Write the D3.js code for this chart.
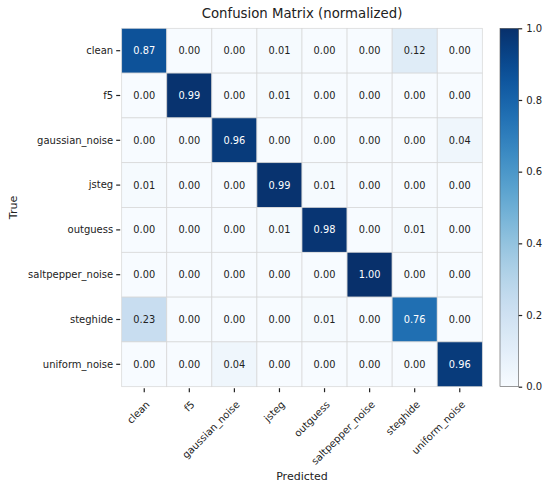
<!DOCTYPE html>
<html>
<head>
<meta charset="utf-8">
<script src="https://cdn.jsdelivr.net/npm/d3@7"></script>
<style>
  body { margin: 0; background: #fff; }
  svg { display: block; font-family: 'DejaVu Sans', sans-serif; }
</style>
</head>
<body>
<div id="chart"></div>
<script>

const classes = ['clean', 'f5', 'gaussian_noise', 'jsteg', 'outguess',
                 'saltpepper_noise', 'steghide', 'uniform_noise'];

// rows = true class, columns = predicted class
const matrix = [
  [0.87, 0.00, 0.00, 0.01, 0.00, 0.00, 0.12, 0.00],
  [0.00, 0.99, 0.00, 0.01, 0.00, 0.00, 0.00, 0.00],
  [0.00, 0.00, 0.96, 0.00, 0.00, 0.00, 0.00, 0.04],
  [0.01, 0.00, 0.00, 0.99, 0.01, 0.00, 0.00, 0.00],
  [0.00, 0.00, 0.00, 0.01, 0.98, 0.00, 0.01, 0.00],
  [0.00, 0.00, 0.00, 0.00, 0.00, 1.00, 0.00, 0.00],
  [0.23, 0.00, 0.00, 0.00, 0.01, 0.00, 0.76, 0.00],
  [0.00, 0.00, 0.04, 0.00, 0.00, 0.00, 0.00, 0.96]
];

const colorbarTicks = [0, 0.2, 0.4, 0.6, 0.8, 1.0];

const width = 550;
const height = 488;
const plotLeft = 121.7, plotTop = 28.3, plotRight = 482.3, plotBottom = 386.7;
const cbLeft = 500, cbWidth = 18.7;
const tickFont = 10;

const svg = d3.select('#chart').append('svg')
  .attr('width', width)
  .attr('height', height);

const x = d3.scaleBand().domain(classes).range([plotLeft, plotRight]);
const y = d3.scaleBand().domain(classes).range([plotTop, plotBottom]);
const color = d3.scaleSequential(d3.interpolateBlues).domain([0, 1]);

// Title
svg.append('text')
  .text('Confusion Matrix (normalized)')
  .attr('x', (plotLeft + plotRight) / 2)
  .attr('y', 18)
  .attr('text-anchor', 'middle')
  .attr('font-size', 13.3)
  .attr('fill', '#222');

// Cells
let cells = [];
matrix.forEach((row, i) => {
  row.forEach((v, j) => cells.push({ r: classes[i], c: classes[j], v: v }));
});

svg.append('g').selectAll('rect')
  .data(cells)
  .join('rect')
  .attr('x', d => x(d.c))
  .attr('y', d => y(d.r))
  .attr('width', x.bandwidth())
  .attr('height', y.bandwidth())
  .attr('fill', d => color(d.v))
  .attr('stroke', '#d6d6d6')
  .attr('stroke-width', 0.7);

svg.append('g').selectAll('text')
  .data(cells)
  .join('text')
  .text(d => d.v.toFixed(2))
  .attr('x', d => x(d.c) + x.bandwidth() / 2)
  .attr('y', d => y(d.r) + y.bandwidth() / 2)
  .attr('dy', '0.36em')
  .attr('text-anchor', 'middle')
  .attr('font-size', 9.8)
  .attr('fill', d => d.v > 0.5 ? '#fff' : '#222');

// Axes
const yAxis = svg.append('g')
  .attr('transform', `translate(${plotLeft - 1.5},0)`)
  .call(d3.axisLeft(y).tickSize(4).tickPadding(3));
yAxis.select('.domain').remove();
yAxis.selectAll('.tick line').attr('stroke', '#222').attr('stroke-width', 1.2);
yAxis.selectAll('.tick text')
  .attr('font-size', tickFont)
  .attr('font-family', 'DejaVu Sans')
  .attr('fill', '#222');

const xAxis = svg.append('g')
  .attr('transform', `translate(0,${plotBottom + 1.5})`)
  .call(d3.axisBottom(x).tickSize(4).tickPadding(3));
xAxis.select('.domain').remove();
xAxis.selectAll('.tick line').attr('stroke', '#222').attr('stroke-width', 1.2);
xAxis.selectAll('.tick text')
  .attr('font-size', tickFont)
  .attr('font-family', 'DejaVu Sans')
  .attr('fill', '#222')
  .attr('text-anchor', 'end')
  .attr('y', 0)
  .attr('dy', 0)
  .attr('transform', 'translate(6,17) rotate(-45)');

// Axis titles
svg.append('text')
  .text('Predicted')
  .attr('x', (plotLeft + plotRight) / 2)
  .attr('y', 479.5)
  .attr('text-anchor', 'middle')
  .attr('font-size', 11)
  .attr('fill', '#222');

svg.append('text')
  .text('True')
  .attr('transform', `translate(17,${(plotTop + plotBottom) / 2}) rotate(-90)`)
  .attr('text-anchor', 'middle')
  .attr('font-size', 11)
  .attr('fill', '#222');

// Colorbar
const defs = svg.append('defs');
const grad = defs.append('linearGradient')
  .attr('id', 'cbgrad')
  .attr('x1', 0).attr('y1', 1).attr('x2', 0).attr('y2', 0);
d3.range(0, 1.0001, 0.05).forEach(t => {
  grad.append('stop')
    .attr('offset', t)
    .attr('stop-color', color(t));
});

const cbScale = d3.scaleLinear().domain([0, 1]).range([plotBottom, plotTop]);

svg.append('rect')
  .attr('x', cbLeft)
  .attr('y', plotTop)
  .attr('width', cbWidth)
  .attr('height', plotBottom - plotTop)
  .attr('fill', 'url(#cbgrad)')
  .attr('stroke', '#555')
  .attr('stroke-width', 0.6);

const cbAxis = svg.append('g')
  .attr('transform', `translate(${cbLeft + cbWidth},0)`)
  .call(d3.axisRight(cbScale).tickValues(colorbarTicks)
    .tickFormat(d3.format('.1f')).tickSize(3.5).tickPadding(4));
cbAxis.select('.domain').remove();
cbAxis.selectAll('.tick line').attr('stroke', '#222').attr('stroke-width', 1.2);
cbAxis.selectAll('.tick text')
  .attr('font-size', tickFont)
  .attr('font-family', 'DejaVu Sans')
  .attr('fill', '#222');
</script>
</body>
</html>
